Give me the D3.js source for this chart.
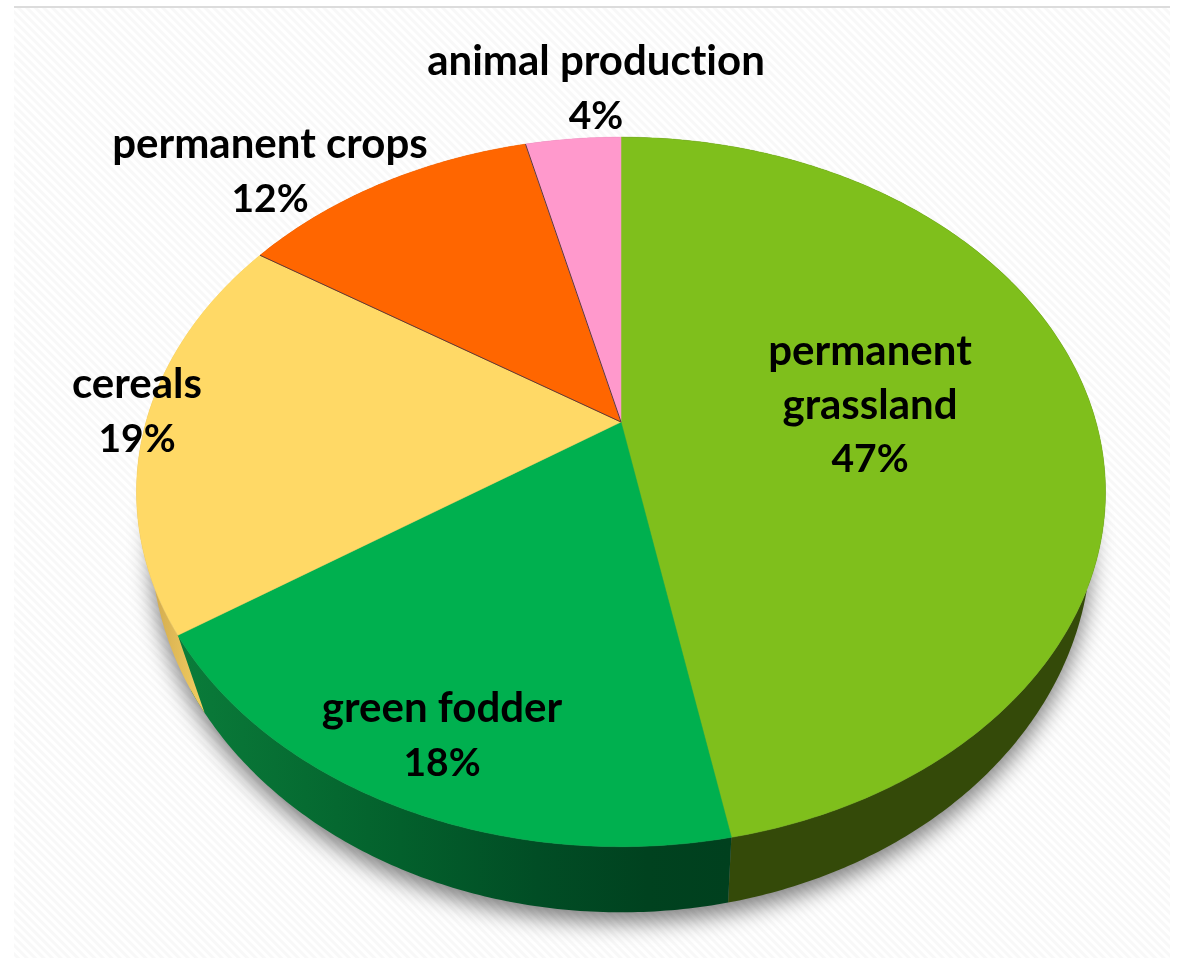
<!DOCTYPE html>
<html>
<head>
<meta charset="utf-8">
<script src="https://cdn.jsdelivr.net/npm/d3@7"></script>
<style>
  html, body { margin: 0; padding: 0; background: #fff; }
  svg { display: block; }
  text { font-family: Lato, "Open Sans", sans-serif; font-weight: 700; fill: #000; text-anchor: middle; font-variant-ligatures: none; }
</style>
</head>
<body>
<div id="chart"></div>
<script>
// slice sizes measured on the picture, printed percentages as they stand on the labels
const categories = ["permanent grassland", "green fodder", "cereals", "permanent crops", "animal production"];
const shares = [47, 18.6, 18.5, 12.05, 3.85];
const percents = ["47%", "18%", "19%", "12%", "4%"];
const topColors = ["#7fbf1c", "#00b04f", "#ffd966", "#ff6600", "#ff99cc"];
const sideColors = ["#344a09", "url(#greenSide)", "url(#yellowSide)", "#b34700", "#b36b8f"];

// label lines and where the text block sits
const labelLines = [["permanent", "grassland"], ["green fodder"], ["cereals"], ["permanent crops"], ["animal production"]];
const labelAt = [[870, 365], [442, 722], [137, 398], [270, 158], [596, 75]];

const width = 1178, height = 958;
const fontSize = 42, percentSize = 39, lineStep = 53.5;

const svg = d3.select("#chart").append("svg")
  .attr("width", width)
  .attr("height", height);

const defs = svg.append("defs");

//  ---------------  BACKGROUND  ---------------
const hatch = defs.append("pattern")
  .attr("id", "hatch")
  .attr("patternUnits", "userSpaceOnUse")
  .attr("width", 6)
  .attr("height", 6)
  .attr("patternTransform", "rotate(-45)");
hatch.append("rect").attr("width", 6).attr("height", 6).attr("fill", "#ffffff");
hatch.append("rect").attr("width", 3).attr("height", 6).attr("fill", "#f8f8f8");

svg.append("rect")
  .attr("x", 14).attr("y", 7)
  .attr("width", 1156).attr("height", height - 7)
  .attr("fill", "url(#hatch)");
svg.append("rect")
  .attr("x", 14).attr("y", 6)
  .attr("width", 1156).attr("height", 2)
  .attr("fill", "#dcdcdc");

//  ---------------  GRADIENTS  ---------------
function sideGradient(id, x1, x2, stops) {
  const g = defs.append("linearGradient")
    .attr("id", id)
    .attr("gradientUnits", "userSpaceOnUse")
    .attr("x1", x1).attr("x2", x2)
    .attr("y1", 0).attr("y2", 0);
  stops.forEach(s => g.append("stop").attr("offset", s[0]).attr("stop-color", s[1]));
}
sideGradient("greenSide", 180, 730, [[0, "#0a7c3a"], [0.4, "#03602c"], [0.65, "#014d25"], [0.85, "#00421f"], [1, "#00401e"]]);
sideGradient("yellowSide", 140, 205, [[0, "#c9a24a"], [1, "#f5cf62"]]);

const blur = defs.append("filter")
  .attr("id", "shadowBlur")
  .attr("x", "-10%").attr("y", "-10%")
  .attr("width", "120%").attr("height", "120%");
blur.append("feGaussianBlur").attr("stdDeviation", 11);

const soften = defs.append("filter").attr("id", "soften");
soften.append("feGaussianBlur").attr("stdDeviation", 0.5);

//  ---------------  PROJECTION  ---------------
// the pie lies tilted: a flat circle seen in perspective, the apex is above the ellipse middle
const tilt = 0.197;
const topDisc = { x: 621, y: 422, k: 475, m: 341 };
const baseDisc = { x: 621, y: 467, k: 460.8, m: 357.6 };
// the yellow wall runs a bit further round its lower edge than its slice
const baseLead = [0, 0, 0.06, 0, 0];

function project(disc, angle) {
  const u = Math.sin(angle), v = -Math.cos(angle);
  const den = 1 - tilt * v;
  return [disc.x + disc.k * u / den, disc.y + disc.m * v / den];
}

function arcPoints(disc, a0, a1) {
  const n = Math.max(2, Math.ceil((a1 - a0) / 0.01));
  return d3.range(n + 1).map(i => project(disc, a0 + (a1 - a0) * i / n));
}

const line = d3.line().curve(d3.curveLinear);
const arcs = d3.pie().sort(null).value(d => d)(shares);

//  ---------------  SHADOW  ---------------
svg.append("path")
  .attr("d", line(arcPoints(baseDisc, 0, 2 * Math.PI)) + "Z")
  .attr("transform", "translate(0,10)")
  .attr("fill", "#000")
  .attr("fill-opacity", 0.5)
  .attr("filter", "url(#shadowBlur)");

//  ---------------  SIDE WALL  ---------------
svg.append("g").selectAll("path")
  .data(arcs)
  .join("path")
  .attr("d", (d, i) => line(arcPoints(topDisc, d.startAngle, d.endAngle)
    .concat(arcPoints(baseDisc, d.startAngle - baseLead[i], d.endAngle).reverse())) + "Z")
  .attr("fill", (d, i) => sideColors[i]);

//  ---------------  TOP FACE  ---------------
svg.append("g").selectAll("path")
  .data(arcs)
  .join("path")
  .attr("d", d => line([[topDisc.x, topDisc.y]].concat(arcPoints(topDisc, d.startAngle, d.endAngle))) + "Z")
  .attr("fill", (d, i) => topColors[i])
  .attr("stroke", (d, i) => topColors[i])
  .attr("stroke-width", 0.5);

// thin dark seams around the orange slice
svg.append("g").selectAll("path")
  .data([arcs[3].startAngle, arcs[3].endAngle])
  .join("path")
  .attr("d", a => line([[topDisc.x, topDisc.y], project(topDisc, a)]))
  .attr("fill", "none")
  .attr("stroke", "#5b3a3a")
  .attr("stroke-width", 1);

//  ---------------  LABELS  ---------------
const labels = svg.append("g").attr("filter", "url(#soften)");
categories.forEach((name, i) => {
  const rows = labelLines[i].concat([percents[i]]);
  rows.forEach((row, j) => {
    labels.append("text")
      .attr("x", labelAt[i][0])
      .attr("y", labelAt[i][1] + j * lineStep)
      .attr("font-size", j === rows.length - 1 ? percentSize : fontSize)
      .text(row);
  });
});
</script>
</body>
</html>
